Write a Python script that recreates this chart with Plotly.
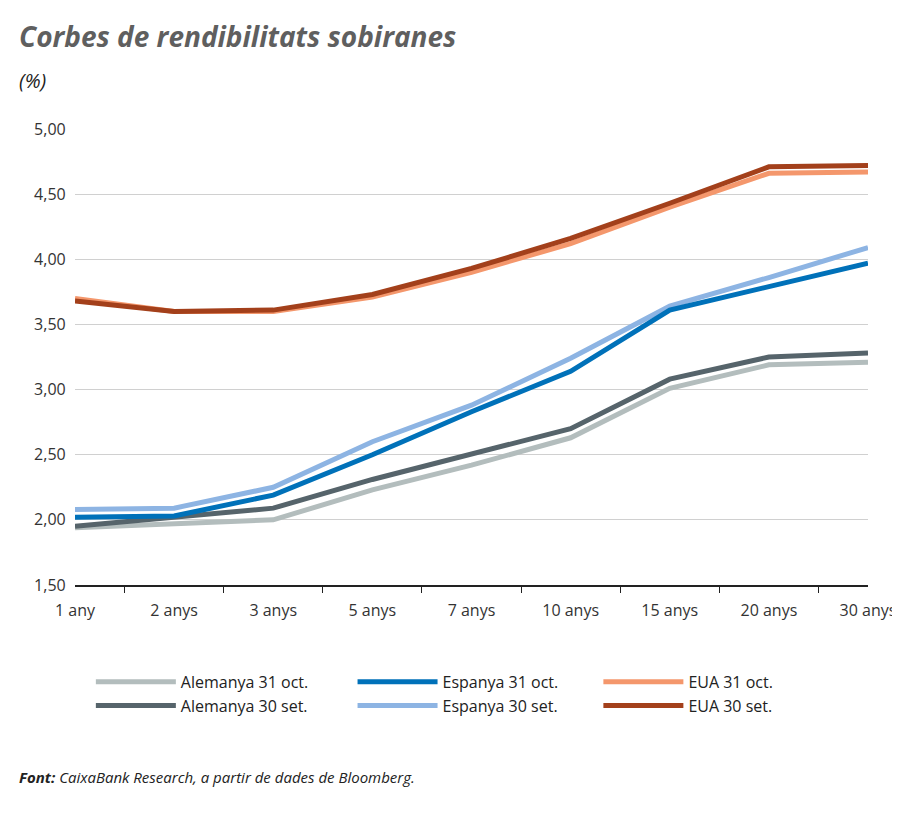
import plotly.graph_objects as go

categories = ["1 any", "2 anys", "3 anys", "5 anys", "7 anys", "10 anys", "15 anys", "20 anys", "30 anys"]
alemanya_31oct = [1.94, 1.97, 2.00, 2.23, 2.42, 2.63, 3.01, 3.19, 3.21]
alemanya_30set = [1.95, 2.02, 2.09, 2.31, 2.50, 2.70, 3.08, 3.25, 3.28]
espanya_31oct = [2.02, 2.03, 2.19, 2.50, 2.83, 3.14, 3.61, 3.79, 3.97]
espanya_30set = [2.08, 2.09, 2.25, 2.60, 2.88, 3.24, 3.64, 3.86, 4.09]
eua_31oct = [3.70, 3.60, 3.60, 3.71, 3.90, 4.12, 4.40, 4.66, 4.67]
eua_30set = [3.68, 3.60, 3.61, 3.73, 3.93, 4.16, 4.43, 4.71, 4.72]

series = [  # drawing order: name, values, color, legend group, rank
    ("Alemanya 31 oct.", alemanya_31oct, "#b3bdbd", "legend", 1),
    ("Alemanya 30 set.", alemanya_30set, "#56646b", "legend", 2),
    ("Espanya 30 set.", espanya_30set, "#8db4e3", "legend2", 2),
    ("Espanya 31 oct.", espanya_31oct, "#0071b9", "legend2", 1),
    ("EUA 31 oct.", eua_31oct, "#f4976c", "legend3", 1),
    ("EUA 30 set.", eua_30set, "#a3401b", "legend3", 2),
]

fig = go.Figure()
for name, vals, col, lg, rank in series:
    fig.add_trace(go.Scatter(x=categories, y=vals, name=name, mode="lines",
                             line=dict(color=col, width=5), legend=lg, legendrank=rank))

font = "Open Sans"
lfont = dict(size=16, color="#222")
def leg(x):
    return dict(orientation="v", x=x, y=-0.175, xanchor="left", yanchor="top",
                font=lfont, itemwidth=80, tracegroupgap=0, bgcolor="rgba(0,0,0,0)")

fig.update_layout(
    width=900, height=834, plot_bgcolor="white", paper_bgcolor="white",
    separators=", ",
    font=dict(family=font, size=16, color="#222"),
    margin=dict(l=67, r=30, t=121, b=257),
    xaxis=dict(showline=True, linecolor="#222", linewidth=1.5, ticks="outside",
               tickson="boundaries", ticklen=6, tickcolor="#222", showgrid=False,
               ticklabelstandoff=10, tickfont=dict(size=16, color="#333")),
    yaxis=dict(range=[1.5, 5.0], dtick=0.5, tickformat=".2f", showgrid=True,
               gridcolor="#d0d0d0", gridwidth=1, zeroline=False, ticks="",
               tickfont=dict(size=16, color="#333"), ticksuffix="  "),
    showlegend=True,
    legend=leg(0.02), legend2=leg(0.35), legend3=leg(0.66),
)
fig.add_annotation(xref="paper", yref="paper", x=-0.073, y=1.25, xanchor="left", yanchor="top",
                   text="<b><i>Corbes de rendibilitats sobiranes</i></b>", showarrow=False,
                   font=dict(size=28, color="#5f5f5f", family=font))
fig.add_annotation(xref="paper", yref="paper", x=-0.073, y=1.14, xanchor="left", yanchor="top",
                   text="<i>(%)</i>", showarrow=False, font=dict(size=20, color="#222", family=font))
fig.add_annotation(xref="paper", yref="paper", x=-0.073, y=-0.395, xanchor="left", yanchor="top",
                   text="<b><i>Font:</i></b><i> CaixaBank Research, a partir de dades de Bloomberg.</i>",
                   showarrow=False, font=dict(size=15, color="#222", family=font))
fig.write_html("out.html")
